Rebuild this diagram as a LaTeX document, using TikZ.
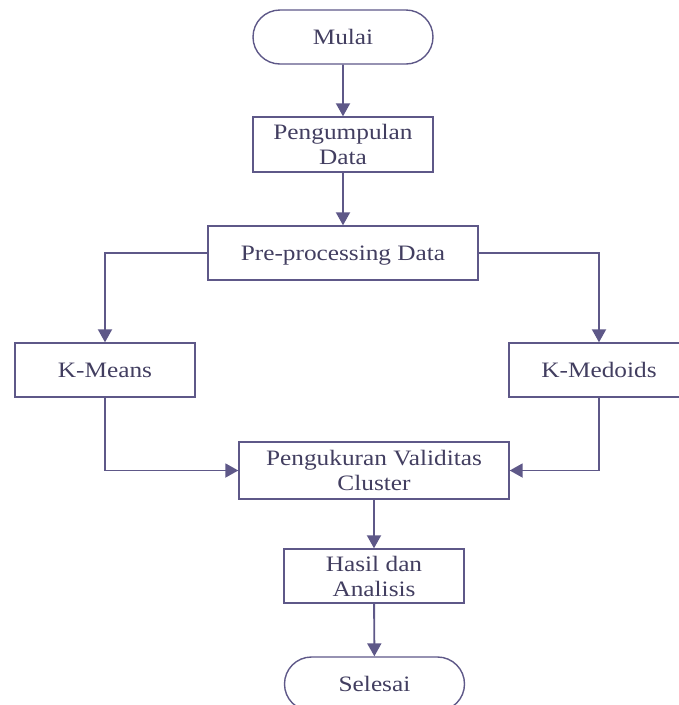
\documentclass[tikz,border=0pt]{standalone}
\usepackage{fontspec}
\setmainfont{Liberation Serif}[FakeStretch=1.15]
\usetikzlibrary{shapes.misc,arrows.meta}
\definecolor{linec}{RGB}{94,88,136}
\definecolor{textc}{RGB}{66,62,96}
\tikzset{
  base/.style={draw=linec, line width=1.4pt, text=textc, align=center,
    inner sep=0pt, text depth=0pt, font=\fontsize{22}{25}\selectfont},
  procbox/.style={base, rectangle, minimum height=54pt},
  term/.style={base, rounded rectangle, minimum width=180pt, minimum height=54pt},
  conn/.style={draw=linec, line width=1.9pt, -{Triangle[width=14pt,length=13pt]}}
}
\begin{document}
\begin{tikzpicture}[x=1pt,y=-1pt]
\useasboundingbox (0,0) rectangle (679,705);
\clip (0,0) rectangle (679,705);
\node[term] (mulai) at (343,37) {Mulai};
\node[procbox, minimum width=180pt, minimum height=55pt] (kumpul) at (343,144.5) {Pengumpulan\\Data};
\node[procbox, minimum width=270pt] (pre) at (343,253) {Pre-processing Data};
\node[procbox, minimum width=180pt] (km) at (105,370) {K-Means};
\node[procbox, minimum width=180pt] (kmed) at (599,370) {K-Medoids};
\node[procbox, minimum width=270pt, minimum height=57pt] (pv) at (374,470.5) {Pengukuran Validitas\\Cluster};
\node[procbox, minimum width=180pt] (hasil) at (374,576) {Hasil dan\\Analisis};
\node[term] (selesai) at (374.5,684) {Selesai};
\draw[conn] (mulai) -- (kumpul);
\draw[conn] (kumpul) -- (pre);
\draw[conn] (pre.west) -| (km.north);
\draw[conn] (pre.east) -| (kmed.north);
\draw[conn] (km.south) |- (pv.west);
\draw[conn] (kmed.south) |- (pv.east);
\draw[conn] (pv) -- (hasil);
\draw[conn] (hasil) -- (selesai);
\end{tikzpicture}
\end{document}
